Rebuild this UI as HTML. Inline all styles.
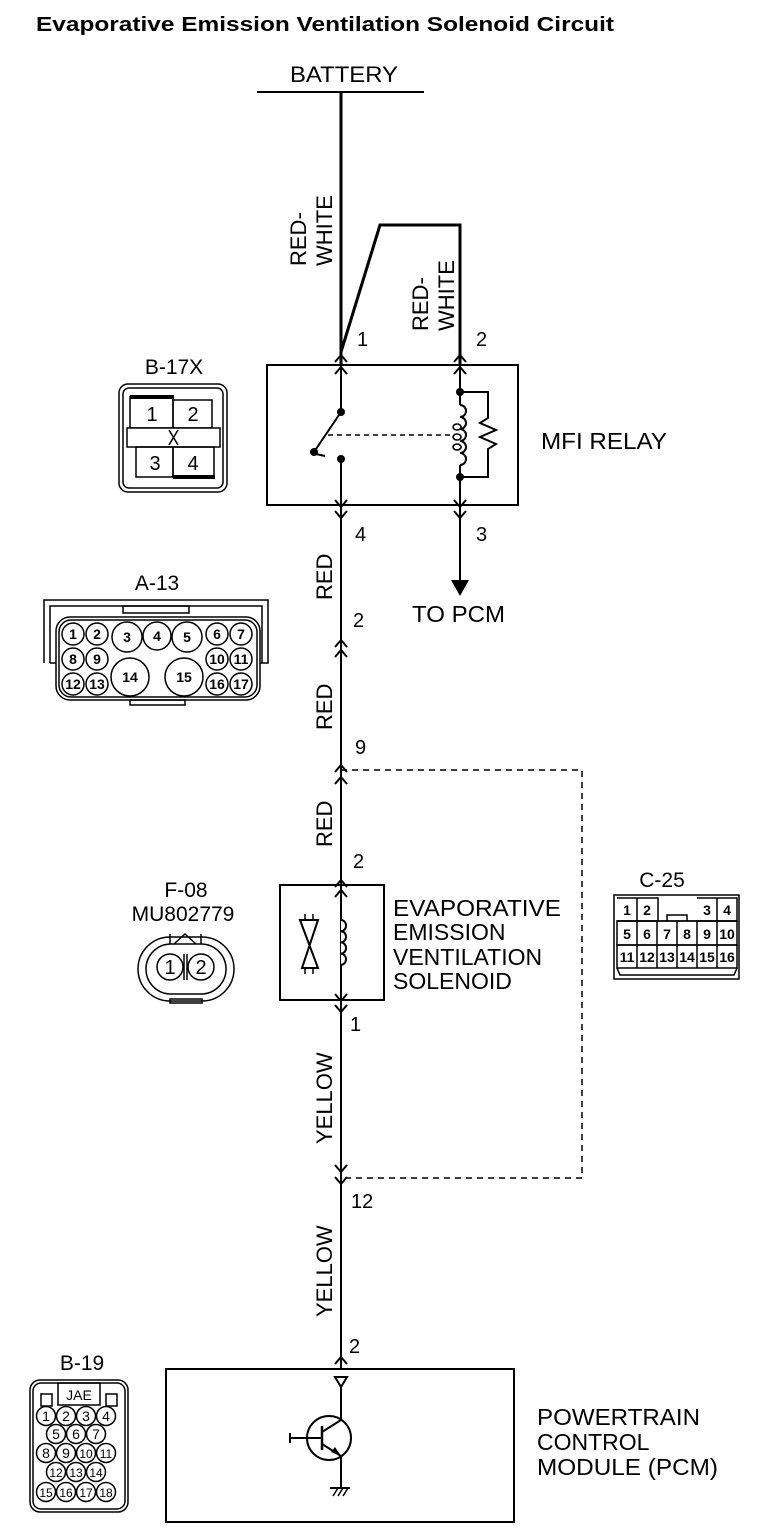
<!DOCTYPE html>
<html><head><meta charset="utf-8"><style>
html,body{margin:0;padding:0;background:#fff}
svg{display:block}
text{font-family:"Liberation Sans",Arial,sans-serif;fill:#000}
</style></head><body>
<svg width="768" height="1534" viewBox="0 0 768 1534" xmlns="http://www.w3.org/2000/svg">
<g stroke="#000" fill="none" stroke-linecap="butt">
<line x1="257" y1="92" x2="424" y2="92" stroke-width="2"/>
<line x1="341" y1="92" x2="341" y2="365" stroke-width="3"/>
<polyline points="341,352 380,225 460,225 460,365" stroke-width="3"/>
<rect x="267" y="365" width="251" height="140" stroke-width="2"/>
<line x1="341" y1="365" x2="341" y2="412" stroke-width="2"/>
<line x1="341" y1="412" x2="314" y2="452" stroke-width="2"/>
<line x1="316" y1="454" x2="325" y2="456" stroke-width="2"/>
<line x1="341" y1="459" x2="341" y2="590" stroke-width="2"/>
<line x1="328" y1="435" x2="455" y2="435" stroke-width="1.5" stroke-dasharray="5,4"/>
<line x1="460" y1="365" x2="460" y2="405" stroke-width="2"/>
<path d="M460,405 a6,6 0 0 1 0,12 a6,6 0 0 1 0,12 a6,6 0 0 1 0,12 a6,6 0 0 1 0,12 a6,6 0 0 1 0,12 " stroke-width="2"/>
<path d="M457,424 a4,3 0 1 0 0.1,0 M457,434 a4,3 0 1 0 0.1,0 M457,444 a4,3 0 1 0 0.1,0" stroke-width="1.5"/>
<line x1="460" y1="465" x2="460" y2="580" stroke-width="2"/>
<polyline points="460,392 488,392 488,418 480,423 496,430 480,437 496,444 488,449 488,477 460,477" stroke-width="2"/>
<line x1="341" y1="590" x2="341" y2="885" stroke-width="2"/>
<line x1="341" y1="1000" x2="341" y2="1369" stroke-width="2"/>
<polyline points="341,770 582,770 582,1178 341,1178" stroke-width="1.5" stroke-dasharray="6,5"/>
<rect x="280" y="885" width="104" height="115" stroke-width="2"/>
<line x1="341" y1="885" x2="341" y2="1000" stroke-width="2"/>
<path d="M341,920 a5,5.6 0 0 1 0,11.2 a5,5.6 0 0 1 0,11.2 a5,5.6 0 0 1 0,11.2 a5,5.6 0 0 1 0,11.2" stroke-width="2" fill="#fff"/>
<path d="M300,920 L318,920 L302,968 L318,968 Z" stroke-width="2"/>
<line x1="305" y1="914" x2="305" y2="920" stroke-width="1.5"/><line x1="313" y1="914" x2="313" y2="920" stroke-width="1.5"/>
<line x1="305" y1="968" x2="305" y2="974" stroke-width="1.5"/><line x1="313" y1="968" x2="313" y2="974" stroke-width="1.5"/>
<rect x="166" y="1369" width="348" height="153" stroke-width="2"/>
<path d="M335,1377 L347,1377 L341,1387 Z" stroke-width="2"/>
<line x1="341" y1="1387" x2="341" y2="1420" stroke-width="2"/>
<circle cx="329" cy="1438" r="22" stroke-width="2"/>
<line x1="322" y1="1426" x2="322" y2="1450" stroke-width="2.5"/>
<line x1="322" y1="1432" x2="341" y2="1420" stroke-width="2"/>
<line x1="322" y1="1444" x2="341" y2="1456" stroke-width="2"/>
<line x1="290" y1="1438" x2="322" y2="1438" stroke-width="2"/>
<line x1="290" y1="1433" x2="290" y2="1443" stroke-width="2"/>
<line x1="341" y1="1456" x2="341" y2="1488" stroke-width="2"/>
<line x1="330" y1="1488" x2="350" y2="1488" stroke-width="2"/>
<line x1="333" y1="1496" x2="338" y2="1488" stroke-width="1.5"/><line x1="338" y1="1496" x2="343" y2="1488" stroke-width="1.5"/><line x1="343" y1="1496" x2="348" y2="1488" stroke-width="1.5"/>
<g stroke-width="2">
<polyline points="335,362 341,355 347,362"/><polyline points="335,374 341,367 347,374"/>
<polyline points="454,362 460,355 466,362"/><polyline points="454,374 460,367 466,374"/>
<polyline points="335,647 341,640 347,647"/><polyline points="335,657 341,650 347,657"/>
<polyline points="335,772 341,765 347,772"/><polyline points="335,784 341,777 347,784"/>
<polyline points="335,887 341,880 347,887"/><polyline points="335,897 341,890 347,897"/>
<polyline points="335,1364 341,1357 347,1364"/>
<polyline points="335,500 341,507 347,500"/><polyline points="335,511 341,518 347,511"/>
<polyline points="454,500 460,507 466,500"/><polyline points="454,511 460,518 466,511"/>
<polyline points="335,994 341,1001 347,994"/><polyline points="335,1005 341,1012 347,1005"/>
<polyline points="335,1165 341,1172 347,1165"/><polyline points="335,1177 341,1184 347,1177"/>
</g>
</g>
<g fill="#000">
<circle cx="341" cy="412" r="4"/><circle cx="314" cy="452" r="4"/><circle cx="341" cy="459" r="4"/>
<circle cx="460" cy="392" r="4"/><circle cx="460" cy="477" r="4"/>
<path d="M451,580 L469,580 L460,596 Z"/>
<path d="M341,1456 L331,1452 L335,1447 Z"/>
</g>
<text x="36" y="31" font-size="20" font-weight="bold" textLength="578" lengthAdjust="spacingAndGlyphs">Evaporative Emission Ventilation Solenoid Circuit</text>
<text x="344" y="82" font-size="22" text-anchor="middle" textLength="108" lengthAdjust="spacingAndGlyphs">BATTERY</text>
<g font-size="22">
<text transform="translate(306,266) rotate(-90)">RED-</text>
<text transform="translate(332,266) rotate(-90)">WHITE</text>
<text transform="translate(428,331) rotate(-90)">RED-</text>
<text transform="translate(454,331) rotate(-90)">WHITE</text>
<text transform="translate(332,600) rotate(-90)">RED</text>
<text transform="translate(332,730) rotate(-90)">RED</text>
<text transform="translate(332,847) rotate(-90)">RED</text>
<text transform="translate(332,1144) rotate(-90)">YELLOW</text>
<text transform="translate(332,1317) rotate(-90)">YELLOW</text>
</g>
<g font-size="20">
<text x="357" y="346">1</text><text x="476" y="346">2</text>
<text x="355" y="541">4</text><text x="476" y="541">3</text>
<text x="353" y="627">2</text><text x="355" y="754">9</text>
<text x="353" y="868">2</text><text x="350" y="1031">1</text>
<text x="351" y="1208">12</text><text x="349" y="1353">2</text>
</g>
<g font-size="23">
<text x="541" y="449" textLength="126" lengthAdjust="spacingAndGlyphs">MFI RELAY</text>
<text x="412" y="622" textLength="93" lengthAdjust="spacingAndGlyphs">TO PCM</text>
<text x="393" y="916" textLength="168" lengthAdjust="spacingAndGlyphs">EVAPORATIVE</text>
<text x="393" y="940">EMISSION</text>
<text x="393" y="965">VENTILATION</text>
<text x="393" y="989">SOLENOID</text>
<text x="537" y="1425" textLength="163" lengthAdjust="spacingAndGlyphs">POWERTRAIN</text>
<text x="537" y="1450">CONTROL</text>
<text x="537" y="1475" textLength="181" lengthAdjust="spacingAndGlyphs">MODULE (PCM)</text>
</g>
<g font-size="21" text-anchor="middle">
<text x="174" y="374">B-17X</text>
<text x="157" y="590">A-13</text>
<text x="186" y="897">F-08</text>
<text x="183" y="921">MU802779</text>
<text x="662" y="887">C-25</text>
<text x="82" y="1370">B-19</text>
</g>
<g stroke="#000" fill="none" stroke-width="1.5">
<rect x="119" y="384" width="108" height="108" rx="9"/>
<rect x="123" y="388" width="100" height="100" rx="6"/>
<rect x="130" y="397" width="43" height="31"/><rect x="173" y="400" width="39" height="28"/>
<rect x="127" y="428" width="93" height="19" fill="#fff"/>
<rect x="136" y="447" width="37" height="30"/><rect x="173" y="447" width="41" height="30"/>
<line x1="130" y1="397" x2="174" y2="397" stroke-width="4"/>
<line x1="173" y1="477" x2="215" y2="477" stroke-width="4"/>
<line x1="169" y1="430" x2="178" y2="445"/><line x1="178" y1="430" x2="169" y2="445"/>
</g>
<g font-size="20" text-anchor="middle"><text x="152" y="421">1</text><text x="193" y="421">2</text><text x="155" y="470">3</text><text x="193" y="470">4</text></g>
<g stroke="#000" fill="none" stroke-width="1.5">
<polyline points="44,663 44,600 268,600 268,663 260,663"/>
<polyline points="50,663 50,606 262,606 262,663"/>
<rect x="123" y="606" width="66" height="7"/>
<rect x="56" y="617" width="204" height="83" rx="14"/>
<rect x="59" y="620" width="198" height="77" rx="12"/>
<line x1="50" y1="663" x2="56" y2="663"/>
<rect x="130" y="700" width="55" height="5"/>
<circle cx="73" cy="634" r="11"/><circle cx="97" cy="634" r="11"/><circle cx="127" cy="637" r="15"/><circle cx="157" cy="636" r="14"/><circle cx="187" cy="637" r="15"/><circle cx="217" cy="634" r="11"/><circle cx="241" cy="634" r="11"/>
<circle cx="73" cy="659" r="11"/><circle cx="97" cy="659" r="11"/><circle cx="217" cy="659" r="11"/><circle cx="241" cy="659" r="11"/>
<circle cx="73" cy="684" r="11"/><circle cx="97" cy="684" r="11"/><circle cx="217" cy="684" r="11"/><circle cx="241" cy="684" r="11"/>
<circle cx="130" cy="677" r="19"/><circle cx="184" cy="677" r="19"/>
</g>
<g font-size="14" font-weight="bold" text-anchor="middle">
<text x="73" y="639">1</text><text x="97" y="639">2</text><text x="127" y="642">3</text><text x="157" y="641">4</text><text x="187" y="642">5</text><text x="217" y="639">6</text><text x="241" y="639">7</text>
<text x="73" y="664">8</text><text x="97" y="664">9</text><text x="217" y="664">10</text><text x="241" y="664">11</text>
<text x="73" y="689">12</text><text x="97" y="689">13</text><text x="217" y="689">16</text><text x="241" y="689">17</text>
<text x="130" y="682">14</text><text x="184" y="682">15</text>
</g>
<g stroke="#000" fill="none" stroke-width="1.5">
<rect x="138" y="937" width="96" height="64" rx="32"/>
<rect x="146" y="944" width="80" height="50" rx="25"/>
<circle cx="170" cy="967" r="13"/><circle cx="201" cy="967" r="13"/>
<line x1="184" y1="954" x2="184" y2="980"/><line x1="187" y1="954" x2="187" y2="980"/>
<polyline points="174,944 185,934 196,944"/>
<line x1="170" y1="934" x2="170" y2="944"/><line x1="201" y1="934" x2="201" y2="944"/>
<rect x="170" y="999" width="32" height="4"/>
</g>
<g font-size="20" text-anchor="middle"><text x="170" y="974">1</text><text x="201" y="974">2</text></g>
<g stroke="#000" fill="none" stroke-width="1.5">
<rect x="614" y="895" width="125" height="84"/>
<polyline points="617,898 658,898 658,921 617,921 Z"/>
<line x1="637" y1="898" x2="637" y2="921"/>
<polyline points="697,898 737,898 737,921 697,921 Z"/>
<line x1="717" y1="898" x2="717" y2="921"/>
<polyline points="667,921 667,915 687,915 687,921"/>
<line x1="617" y1="921" x2="737" y2="921"/>
<rect x="617" y="921" width="120" height="24"/>
<rect x="617" y="945" width="120" height="23"/>
<line x1="637" y1="921" x2="637" y2="968"/><line x1="657" y1="921" x2="657" y2="968"/><line x1="677" y1="921" x2="677" y2="968"/><line x1="697" y1="921" x2="697" y2="968"/><line x1="717" y1="921" x2="717" y2="968"/>
<polyline points="617,968 620,975 734,975 737,968"/>
</g>
<g font-size="14" font-weight="bold" text-anchor="middle">
<text x="627" y="915">1</text><text x="647" y="915">2</text><text x="707" y="915">3</text><text x="727" y="915">4</text>
<text x="627" y="939">5</text><text x="647" y="939">6</text><text x="667" y="939">7</text><text x="687" y="939">8</text><text x="707" y="939">9</text><text x="727" y="939">10</text>
<text x="627" y="962">11</text><text x="647" y="962">12</text><text x="667" y="962">13</text><text x="687" y="962">14</text><text x="707" y="962">15</text><text x="727" y="962">16</text>
</g>
<g stroke="#000" fill="none" stroke-width="1.5">
<rect x="30" y="1380" width="98" height="132" rx="10"/>
<rect x="33" y="1383" width="92" height="126" rx="8"/>
<rect x="58" y="1383" width="42" height="22"/>
<rect x="41" y="1394" width="11" height="12"/><rect x="106" y="1394" width="11" height="12"/>
<circle cx="46" cy="1416" r="9.5"/><circle cx="66" cy="1416" r="9.5"/><circle cx="86" cy="1416" r="9.5"/><circle cx="106" cy="1416" r="9.5"/>
<circle cx="56" cy="1434" r="9.5"/><circle cx="76" cy="1434" r="9.5"/><circle cx="96" cy="1434" r="9.5"/>
<circle cx="46" cy="1453" r="9.5"/><circle cx="66" cy="1453" r="9.5"/><circle cx="86" cy="1453" r="9.5"/><circle cx="106" cy="1453" r="9.5"/>
<circle cx="56" cy="1472" r="9.5"/><circle cx="76" cy="1472" r="9.5"/><circle cx="96" cy="1472" r="9.5"/>
<circle cx="46" cy="1492" r="9.5"/><circle cx="66" cy="1492" r="9.5"/><circle cx="86" cy="1492" r="9.5"/><circle cx="106" cy="1492" r="9.5"/>
</g>
<g font-size="14" text-anchor="middle">
<text x="79" y="1400">JAE</text>
<text x="46" y="1421">1</text><text x="66" y="1421">2</text><text x="86" y="1421">3</text><text x="106" y="1421">4</text>
<text x="56" y="1439">5</text><text x="76" y="1439">6</text><text x="96" y="1439">7</text>
<text x="46" y="1458">8</text><text x="66" y="1458">9</text><text x="86" y="1458" font-size="12">10</text><text x="106" y="1458" font-size="12">11</text>
<text x="56" y="1477" font-size="12">12</text><text x="76" y="1477" font-size="12">13</text><text x="96" y="1477" font-size="12">14</text>
<text x="46" y="1497" font-size="12">15</text><text x="66" y="1497" font-size="12">16</text><text x="86" y="1497" font-size="12">17</text><text x="106" y="1497" font-size="12">18</text>
</g>
</svg>
</body></html>
